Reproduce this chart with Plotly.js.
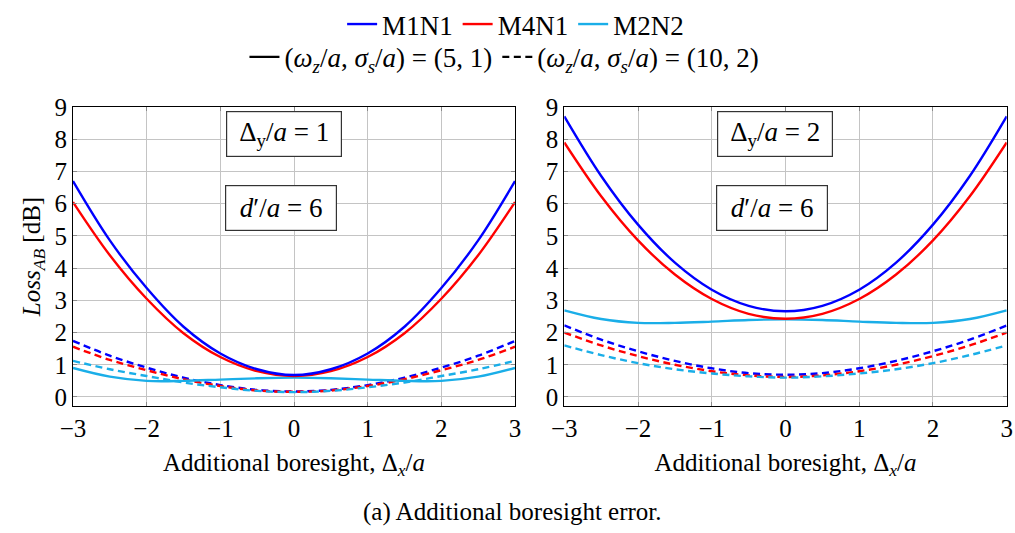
<!DOCTYPE html>
<html>
<head>
<meta charset="utf-8">
<script src="https://cdn.plot.ly/plotly-3.0.1.min.js"></script>
<style>
#chart text { font-family: "Liberation Serif", "Times New Roman", serif !important; }
</style>
</head>
<body style="margin:0;background:#fff">
<div id="chart" style="width:1015px;height:533px"></div>
<script>
// Shared x positions (Additional boresight, Δx/a)
const xVals = [-3, -2.5, -2, -1.5, -1, -0.5, 0, 0.5, 1, 1.5, 2, 2.5, 3];

// Left panel: Δy/a = 1
const left_M1N1_solid = [6.70, 4.86, 3.38, 2.18, 1.35, 0.86, 0.68, 0.86, 1.35, 2.18, 3.38, 4.86, 6.70];
const left_M4N1_solid = [6.05, 4.40, 3.05, 1.98, 1.24, 0.80, 0.65, 0.80, 1.24, 1.98, 3.05, 4.40, 6.05];
const left_M2N2_solid = [0.90, 0.63, 0.50, 0.50, 0.54, 0.58, 0.60, 0.58, 0.54, 0.50, 0.50, 0.63, 0.90];
const left_M1N1_dash  = [1.74, 1.28, 0.91, 0.60, 0.37, 0.22, 0.17, 0.22, 0.37, 0.60, 0.91, 1.28, 1.74];
const left_M4N1_dash  = [1.56, 1.15, 0.83, 0.55, 0.34, 0.20, 0.16, 0.20, 0.34, 0.55, 0.83, 1.15, 1.56];
const left_M2N2_dash  = [1.12, 0.86, 0.65, 0.45, 0.30, 0.19, 0.15, 0.19, 0.30, 0.45, 0.65, 0.86, 1.12];

// Right panel: Δy/a = 2
const right_M1N1_solid = [8.71, 6.86, 5.35, 4.17, 3.33, 2.83, 2.66, 2.83, 3.33, 4.17, 5.35, 6.86, 8.71];
const right_M4N1_solid = [7.90, 6.23, 4.86, 3.80, 3.04, 2.58, 2.43, 2.58, 3.04, 3.80, 4.86, 6.23, 7.90];
const right_M2N2_solid = [2.69, 2.42, 2.30, 2.30, 2.34, 2.39, 2.41, 2.39, 2.34, 2.30, 2.30, 2.42, 2.69];
const right_M1N1_dash  = [2.22, 1.78, 1.42, 1.12, 0.89, 0.74, 0.69, 0.74, 0.89, 1.12, 1.42, 1.78, 2.22];
const right_M4N1_dash  = [2.00, 1.60, 1.27, 1.00, 0.80, 0.67, 0.62, 0.67, 0.80, 1.00, 1.27, 1.60, 2.00];
const right_M2N2_dash  = [1.60, 1.30, 1.05, 0.86, 0.73, 0.64, 0.60, 0.64, 0.73, 0.86, 1.05, 1.30, 1.60];

const seriesNames = ['M1N1', 'M4N1', 'M2N2'];
const colors = {M1N1: '#0000ff', M4N1: '#ff0000', M2N2: '#1aaee8'};
const styleNames = ['(<i>ω<sub>z</sub></i>/<i>a</i>, <i>σ<sub>s</sub></i>/<i>a</i>) = (5, 1)',
                    '(<i>ω<sub>z</sub></i>/<i>a</i>, <i>σ<sub>s</sub></i>/<i>a</i>) = (10, 2)'];
const boxLabels = {
  left:  ['Δ<sub>y</sub>/<i>a</i> = 1', '<i>d</i>′/<i>a</i> = 6'],
  right: ['Δ<sub>y</sub>/<i>a</i> = 2', '<i>d</i>′/<i>a</i> = 6']
};
const xTitle = 'Additional boresight, Δ<sub><i>x</i></sub>/<i>a</i>';
const yTitle = '<i>Loss<sub>AB</sub></i> [dB]';
const caption = '(a) Additional boresight error.';

const LW = 2.4;
const DASH = '7px,4.5px';
const SERIF = 'Liberation Serif';

function fnt(size) { return {family: SERIF, size: size, color: '#000000'}; }

const panels = [
  {xa: 'x', ya: 'y', solid: [left_M1N1_solid, left_M4N1_solid, left_M2N2_solid], dash: [left_M1N1_dash, left_M4N1_dash, left_M2N2_dash]},
  {xa: 'x2', ya: 'y2', solid: [right_M1N1_solid, right_M4N1_solid, right_M2N2_solid], dash: [right_M1N1_dash, right_M4N1_dash, right_M2N2_dash]}
];

const traces = [];
panels.forEach(p => {
  seriesNames.forEach((n, i) => {
    traces.push({x: xVals, y: p.dash[i], xaxis: p.xa, yaxis: p.ya, mode: 'lines', type: 'scatter',
      line: {color: colors[n], width: LW, dash: DASH, shape: 'spline', smoothing: 1}, showlegend: false, hoverinfo: 'skip'});
  });
  [2, 1, 0].forEach(i => {
    const n = seriesNames[i];
    traces.push({x: xVals, y: p.solid[i], xaxis: p.xa, yaxis: p.ya, mode: 'lines', type: 'scatter', name: n,
      line: {color: colors[n], width: LW, shape: 'spline', smoothing: 1}, showlegend: false, hoverinfo: 'skip'});
  });
});
seriesNames.forEach(n => {
  traces.push({x: [null], y: [null], mode: 'lines', type: 'scatter', name: n, legend: 'legend',
    line: {color: colors[n], width: LW}, showlegend: true, hoverinfo: 'skip'});
});
styleNames.forEach((s, k) => {
  traces.push({x: [null], y: [null], mode: 'lines', type: 'scatter', name: s, legend: 'legend2',
    line: {color: '#000000', width: LW, dash: k === 0 ? 'solid' : DASH}, showlegend: true, hoverinfo: 'skip'});
});

function xaxisDef(domain, anchor) {
  return {
    domain: domain, anchor: anchor, range: [-3, 3], tickvals: [-3, -2, -1, 0, 1, 2, 3],
    showgrid: true, gridcolor: '#c4c4c4', gridwidth: 1,
    showline: true, linecolor: '#000000', linewidth: 1.2, mirror: 'allticks',
    ticks: 'inside', ticklen: 4, tickcolor: '#8a8a8a', tickwidth: 1, zeroline: false,
    tickfont: fnt(25),
    title: {text: xTitle, font: fnt(25), standoff: 12}
  };
}
function yaxisDef(anchor, withTitle) {
  const a = {
    domain: [0, 1], anchor: anchor, range: [-0.28, 9], tickvals: [0, 1, 2, 3, 4, 5, 6, 7, 8, 9],
    showgrid: true, gridcolor: '#c4c4c4', gridwidth: 1,
    showline: true, linecolor: '#000000', linewidth: 1.2, mirror: 'allticks',
    ticks: 'inside', ticklen: 4, tickcolor: '#8a8a8a', tickwidth: 1, zeroline: false,
    tickfont: fnt(25)
  };
  if (withTitle) a.title = {text: yTitle, font: fnt(25), standoff: 6};
  return a;
}

const annotations = [];
[['x', 'y', boxLabels.left], ['x2', 'y2', boxLabels.right]].forEach(([xa, ya, labels]) => {
  annotations.push({xref: xa, yref: ya, x: -0.14, y: 8.16, text: labels[0], showarrow: false,
    font: fnt(27), bgcolor: '#ffffff', bordercolor: '#333333', borderwidth: 1.2,
    borderpad: 2, width: 110, height: 40});
  annotations.push({xref: xa, yref: ya, x: -0.18, y: 5.88, text: labels[1], showarrow: false,
    font: fnt(27), bgcolor: '#ffffff', bordercolor: '#333333', borderwidth: 1.2,
    borderpad: 2, width: 106, height: 40});
});
annotations.push({xref: 'paper', yref: 'paper', x: 0.5045, y: -0.355, xanchor: 'center', yanchor: 'middle',
  text: caption, showarrow: false, font: fnt(25)});

const layout = {
  width: 1015, height: 533,
  margin: {l: 0, r: 0, t: 99, b: 127, pad: 0},
  paper_bgcolor: '#ffffff', plot_bgcolor: '#ffffff',
  xaxis: xaxisDef([73 / 1015, 515 / 1015], 'y'),
  xaxis2: xaxisDef([564.3 / 1015, 1006.7 / 1015], 'y2'),
  yaxis: yaxisDef('x', true),
  yaxis2: yaxisDef('x2', false),
  legend: {orientation: 'h', x: 0.508, y: 1.277, xanchor: 'center', yanchor: 'middle',
    font: fnt(27), bgcolor: 'rgba(0,0,0,0)'},
  legend2: {orientation: 'h', x: 0.497, y: 1.166, xanchor: 'center', yanchor: 'middle',
    font: fnt(27), bgcolor: 'rgba(0,0,0,0)'},
  annotations: annotations,
  showlegend: true
};

Plotly.newPlot('chart', traces, layout, {displayModeBar: false});
</script>
</body>
</html>
